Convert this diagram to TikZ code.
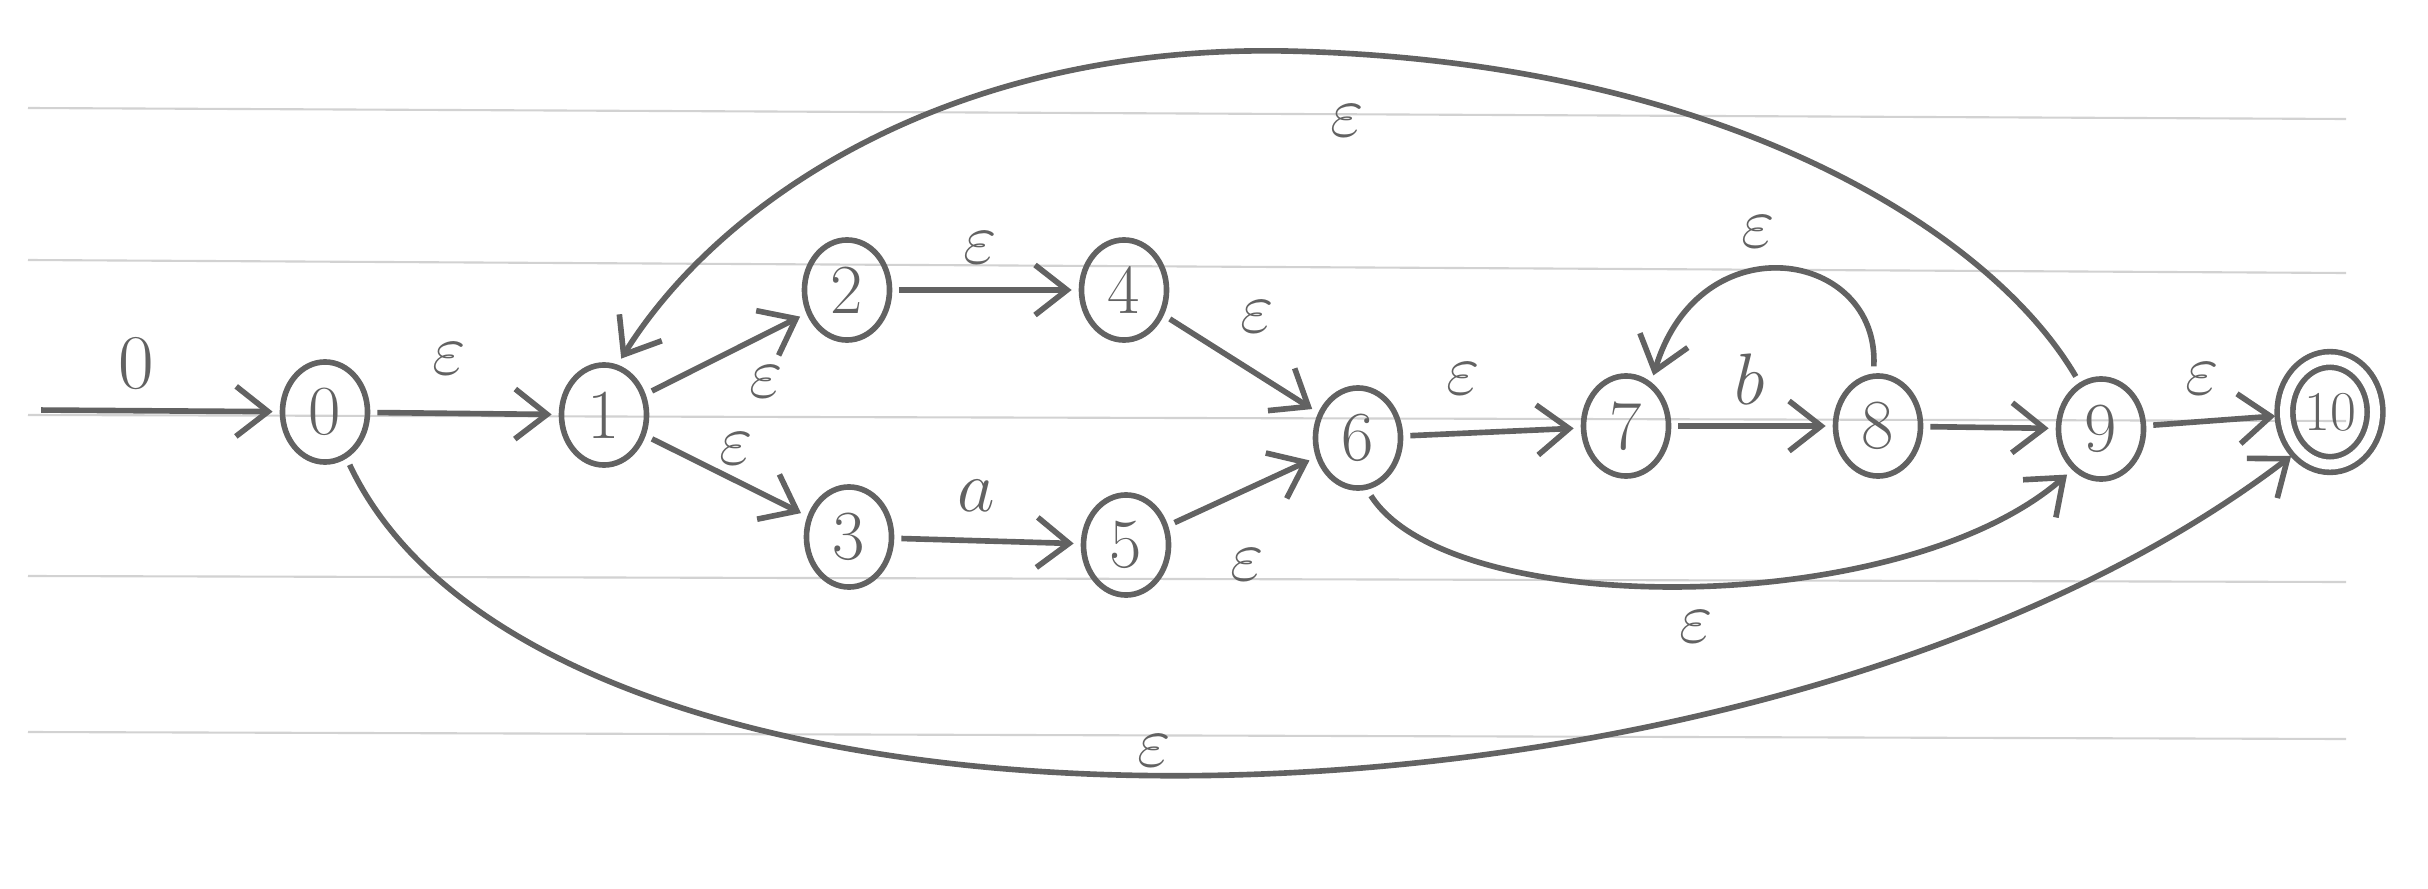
\documentclass[tikz,border=0pt]{standalone}
\usetikzlibrary{shapes.geometric,arrows.meta}
\definecolor{pencil}{HTML}{626262}
\definecolor{paper}{HTML}{D2D2D2}
\begin{document}
\begin{tikzpicture}[x=0.01cm,y=-0.01cm,
  state/.style={ellipse,draw=pencil,line width=1.6pt,minimum width=0.85cm,minimum height=1.0cm,inner sep=0pt,text=pencil,font=\fontsize{20}{22}\selectfont},
  final/.style={state,double,double distance=1.0mm,minimum width=0.9cm,minimum height=1.05cm,font=\fontsize{16}{18}\selectfont},
  arr/.style={draw=pencil,line width=1.6pt,-{Straight Barb[length=3.2mm,width=5mm,line width=1.6pt]},shorten >=2pt,shorten <=2pt},
  lbl/.style={text=pencil,font=\fontsize{22}{24}\selectfont},
  paperline/.style={draw=paper,line width=0.6pt}]
\useasboundingbox[fill=white] (0,0) rectangle (2428,888);
% ruled paper
\draw[paperline] (28,108) -- (2346,119);
\draw[paperline] (28,260) -- (2346,273);
\draw[paperline] (28,415) -- (2346,421);
\draw[paperline] (28,576) -- (2346,582);
\draw[paperline] (28,732) -- (2346,739);
% states
\node[state] (n0) at (325,412) {0};
\node[state] (n1) at (604,415) {1};
\node[state] (n2) at (847,290) {2};
\node[state] (n3) at (849,537) {3};
\node[state] (n4) at (1124,290) {4};
\node[state] (n5) at (1126,545) {5};
\node[state] (n6) at (1358,438) {6};
\node[state] (n7) at (1626,426) {7};
\node[state] (n8) at (1878,426) {8};
\node[state] (n9) at (2101,429) {9};
\node[final] (n10) at (2330,412) {10};
\coordinate (s) at (34,410);
% straight transitions
\draw[arr] (s) -- (n0);
\draw[arr] (n0) -- (n1);
\draw[arr] (n1) -- (n2.-150);
\draw[arr] (n1) -- (n3);
\draw[arr] (n2) -- (n4);
\draw[arr] (n3) -- (n5);
\draw[arr] (n4) -- (n6);
\draw[arr] (n5) -- (n6);
\draw[arr] (n6) -- (n7);
\draw[arr] (n7) -- (n8);
\draw[arr] (n8) -- (n9);
\draw[arr] (n9) -- (n10);
% curved transitions
\draw[arr] (n8.95) .. controls (1880,250) and (1700,220) .. (n7.60);
\draw[arr] (n9.115) .. controls (1990,230) and (1720,60) .. (1285,51) .. controls (950,45) and (720,200) .. (n1.75);
\draw[arr] (n6.-80) .. controls (1450,620) and (1900,620) .. (n9.-125);
\draw[arr] (n0.-65) .. controls (550,890) and (1750,870) .. (n10.-130);
% labels
\node[lbl] (l0) at (136,364) {0};
\node[lbl] (l01) at (449,359) {$\varepsilon$};
\node[lbl] (l12) at (766,382) {$\varepsilon$};
\node[lbl] (l13) at (736,449) {$\varepsilon$};
\node[lbl] (l24) at (980,248) {$\varepsilon$};
\node[lbl] (l35) at (976,496) {$a$};
\node[lbl] (l46) at (1257,317) {$\varepsilon$};
\node[lbl] (l56) at (1247,565) {$\varepsilon$};
\node[lbl] (l67) at (1463,379) {$\varepsilon$};
\node[lbl] (l78) at (1750,379) {$b$};
\node[lbl] (l910) at (2202,379) {$\varepsilon$};
\node[lbl] (l87) at (1758,232) {$\varepsilon$};
\node[lbl] (l91) at (1347,121) {$\varepsilon$};
\node[lbl] (l69) at (1696,627) {$\varepsilon$};
\node[lbl] (l010) at (1154,751) {$\varepsilon$};
\end{tikzpicture}
\end{document}
